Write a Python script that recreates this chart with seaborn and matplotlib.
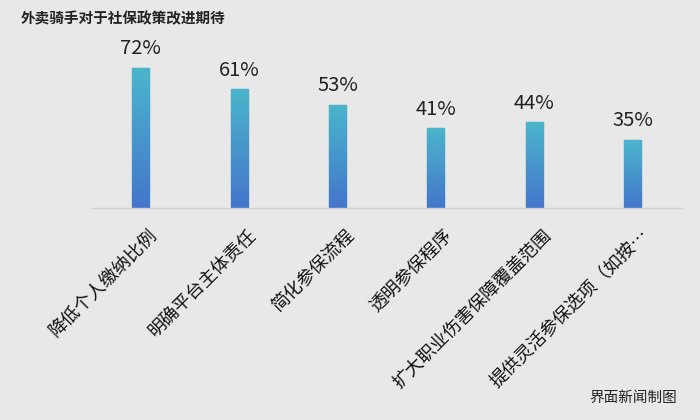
import numpy as np
import pandas as pd
import matplotlib
matplotlib.use('Agg')
import matplotlib.pyplot as plt
import matplotlib.transforms as mtransforms
import seaborn as sns
from matplotlib.colors import LinearSegmentedColormap

categorias = ['降低个人缴纳比例', '明确平台主体责任', '简化参保流程', '透明参保程序',
              '扩大职业伤害保障覆盖范围', '提供灵活参保选项（如按…']
percentuais = [72, 61, 53, 41, 44, 35]

titulo = '外卖骑手对于社保政策改进期待'
fonte = '界面新闻制图'

sns.set_theme(style='white')
plt.rcParams['font.family'] = ['Noto Sans CJK SC', 'DejaVu Sans']

fundo = '#e8e8e8'
fig = plt.figure(figsize=(7, 4.2), dpi=100, facecolor=fundo)
ax = fig.add_axes([0.131, 0.505, 0.843, 0.37])
ax.set_facecolor(fundo)

df = pd.DataFrame({'cat': categorias, 'pct': percentuais})
sns.barplot(data=df, x='cat', y='pct', ax=ax, width=0.173,
            color='#4bb3cc', edgecolor='#3b98b2', linewidth=1.0)

# gradiente vertical nas barras
cmap = LinearSegmentedColormap.from_list('grad', ['#4476cb', '#4bb5cc'])
grad = np.linspace(0, 1, 256).reshape(-1, 1)
for p in ax.patches:
    x0, w, h = p.get_x(), p.get_width(), p.get_height()
    im = ax.imshow(grad, cmap=cmap, origin='lower', aspect='auto',
                   extent=[x0, x0 + w, 0, h], zorder=p.get_zorder() + 0.1)
    im.set_clip_path(p)
    ax.text(x0 + w / 2, h + 4.5, f'{int(h)}%', ha='center', va='bottom',
            fontsize=14.5, color='#222222')

ax.set_xlim(-0.5, len(categorias) - 0.5)
ax.set_ylim(0, 80)
ax.set_xlabel('')
ax.set_ylabel('')
ax.set_yticks([])
for s in ['top', 'left', 'right']:
    ax.spines[s].set_visible(False)
ax.spines['bottom'].set_color('#d2d2d2')
ax.spines['bottom'].set_linewidth(1.0)

ax.tick_params(axis='x', length=0, pad=4)
ax.set_xticks(range(len(categorias)))
ax.set_xticklabels(categorias, rotation=45, ha='right', va='top',
                   rotation_mode='anchor', fontsize=13, color='#111111')
desloc = mtransforms.ScaledTranslation(8 / 100, -13 / 100, fig.dpi_scale_trans)
for lbl in ax.get_xticklabels():
    lbl.set_transform(lbl.get_transform() + desloc)

fig.text(0.029, 0.957, titulo, fontsize=10.5, fontweight='bold',
         color='#222222', ha='left', va='center')
fig.text(0.967, 0.052, fonte, fontsize=10.5, color='#222222',
         ha='right', va='center')

fig.savefig('out.png', dpi=100, facecolor=fundo)
